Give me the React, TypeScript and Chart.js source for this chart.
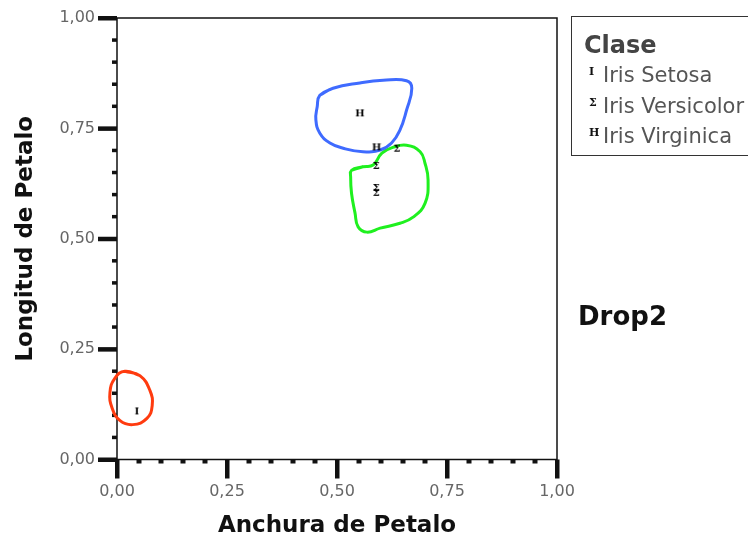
import React, { useEffect, useRef } from "react";
import { Chart, registerables } from "chart.js";

Chart.register(...registerables);

// Category glyph points (Anchura de Petalo, Longitud de Petalo)
const setosaX = [0.045];
const setosaY = [0.109];
const versicolorX = [0.636, 0.589, 0.589, 0.589];
const versicolorY = [0.704, 0.665, 0.615, 0.604];
const virginicaX = [0.552, 0.59];
const virginicaY = [0.784, 0.707];

// Hand-drawn outlines (data coordinates)
const redLoopX = [0.018, 0.052, 0.075, 0.08, 0.068, 0.036, 0.007, -0.011, -0.016, -0.005];
const redLoopY = [0.2, 0.19, 0.156, 0.122, 0.093, 0.079, 0.088, 0.116, 0.152, 0.184];
const blueLoopX = [0.461, 0.491, 0.552, 0.605, 0.658, 0.67, 0.658, 0.643, 0.624, 0.598, 0.559, 0.514, 0.484, 0.461, 0.452, 0.455];
const blueLoopY = [0.825, 0.841, 0.853, 0.859, 0.858, 0.841, 0.791, 0.746, 0.717, 0.701, 0.697, 0.705, 0.717, 0.739, 0.769, 0.799];
const greenLoopX = [0.533, 0.559, 0.582, 0.602, 0.627, 0.658, 0.689, 0.7, 0.707, 0.7, 0.673, 0.643, 0.598, 0.568, 0.548, 0.541, 0.533, 0.531];
const greenLoopY = [0.655, 0.663, 0.667, 0.694, 0.707, 0.712, 0.697, 0.671, 0.633, 0.58, 0.549, 0.535, 0.524, 0.515, 0.527, 0.558, 0.603, 0.64];

const seriesNames = ["Iris Setosa", "Iris Versicolor", "Iris Virginica"];
const seriesGlyphs = ["I", "Σ", "H"];
const majorStep = 0.25;
const minorStep = 0.05;
const axisMin = 0;
const axisMax = 1;

const SANS = '"DejaVu Sans", sans-serif';
const SERIF = '"DejaVu Serif", serif';

const fmt = (v: number) => Number(v).toFixed(2).replace(".", ",");
const pts = (xs: number[], ys: number[]) => xs.map((x, i) => ({ x, y: ys[i] }));
const loop = (xs: number[], ys: number[]) => {
  const p = pts(xs, ys);
  return [...p, p[0], p[1]];
};

function makeGlyph(ch: string): HTMLCanvasElement {
  const c = document.createElement("canvas");
  c.width = 10;
  c.height = 10;
  const g = c.getContext("2d")!;
  g.fillStyle = "#000";
  g.font = `bold 10px ${SERIF}`;
  g.textAlign = "center";
  g.textBaseline = "middle";
  g.fillText(ch, 5, 5.5);
  return c;
}

const axesPlugin = {
  id: "spssAxes",
  beforeDatasetsDraw(chart: any) {
    const { ctx, chartArea: a, scales } = chart;
    const x = scales.x;
    const y = scales.y;
    ctx.save();
    ctx.strokeStyle = "#111";
    ctx.lineWidth = 1.5;
    ctx.strokeRect(a.left, a.top, a.right - a.left, a.bottom - a.top);
    ctx.fillStyle = "#111";
    const n = Math.round((axisMax - axisMin) / minorStep);
    const per = Math.round(majorStep / minorStep);
    for (let i = 0; i <= n; i++) {
      const v = axisMin + i * minorStep;
      const px = x.getPixelForValue(v);
      const py = y.getPixelForValue(v);
      if (i % per === 0) {
        ctx.fillRect(px - 2, a.bottom, 4.5, 19);
        ctx.fillRect(a.left - 19, py - 2, 19, 4.5);
      } else {
        ctx.fillRect(px - 2.5, a.bottom, 5, 4);
        ctx.fillRect(a.left - 5, py - 1.75, 5, 3.5);
      }
    }
    ctx.restore();
  },
};

export default function App() {
  const ref = useRef<HTMLCanvasElement>(null);

  useEffect(() => {
    if (!ref.current) return;
    const glyphs = seriesGlyphs.map(makeGlyph);
    const chart = new Chart(ref.current, {
      type: "scatter",
      data: {
        datasets: [
          { label: seriesNames[0], data: pts(setosaX, setosaY), pointStyle: glyphs[0], pointRadius: 4, showLine: false },
          { label: seriesNames[1], data: pts(versicolorX, versicolorY), pointStyle: glyphs[1], pointRadius: 4, showLine: false },
          { label: seriesNames[2], data: pts(virginicaX, virginicaY), pointStyle: glyphs[2], pointRadius: 4, showLine: false },
          { label: "red", data: loop(redLoopX, redLoopY), showLine: true, pointRadius: 0, borderColor: "#ff3b0f", borderWidth: 3, tension: 0.45, clip: false, fill: false },
          { label: "blue", data: loop(blueLoopX, blueLoopY), showLine: true, pointRadius: 0, borderColor: "#3f6bff", borderWidth: 3, tension: 0.45, clip: false, fill: false },
          { label: "green", data: loop(greenLoopX, greenLoopY), showLine: true, pointRadius: 0, borderColor: "#1ff01f", borderWidth: 3, tension: 0.45, clip: false, fill: false },
        ] as any,
      },
      options: {
        responsive: false,
        animation: false,
        layout: { padding: { left: 0, top: 18, right: 191, bottom: 0 } },
        plugins: { legend: { display: false }, tooltip: { enabled: false } },
        scales: {
          x: {
            type: "linear",
            min: axisMin,
            max: axisMax,
            grid: { display: false, drawTicks: false },
            border: { display: false },
            ticks: {
              stepSize: majorStep,
              autoSkip: false,
              maxRotation: 0,
              padding: 23,
              color: "#666",
              font: { family: SANS, size: 16 },
              callback: (v: any) => fmt(v),
            },
            title: {
              display: true,
              text: "Anchura de Petalo",
              color: "#111",
              font: { family: SANS, size: 23, weight: "bold", lineHeight: 1 },
              padding: { top: 0, bottom: 0 },
            },
            afterFit: (s: any) => {
              s.height = 78.5;
              s.paddingLeft = 0;
              s.paddingRight = 0;
            },
          },
          y: {
            type: "linear",
            min: axisMin,
            max: axisMax,
            grid: { display: false, drawTicks: false },
            border: { display: false },
            ticks: {
              stepSize: majorStep,
              autoSkip: false,
              padding: 22,
              color: "#666",
              font: { family: SANS, size: 16 },
              callback: (v: any) => fmt(v),
            },
            title: {
              display: true,
              text: "Longitud de Petalo",
              color: "#111",
              font: { family: SANS, size: 23, weight: "bold", lineHeight: 1 },
              padding: { top: 15, bottom: 0 },
            },
            afterFit: (s: any) => {
              s.width = 117;
              s.paddingTop = 0;
              s.paddingBottom = 0;
            },
          },
        },
      } as any,
      plugins: [axesPlugin],
    });
    return () => chart.destroy();
  }, []);

  const itemTops = [64.5, 95.5, 125.5];

  return (
    <div style={{ position: "absolute", left: 0, top: 0, width: 748, height: 538, overflow: "hidden", background: "#fff" }}>
      <canvas ref={ref} width={748} height={538} style={{ display: "block" }} />
      <div
        style={{
          position: "absolute",
          left: 571,
          top: 16,
          width: 200,
          height: 140,
          border: "1.5px solid #333",
          boxSizing: "border-box",
        }}
      />
      <div style={{ position: "absolute", left: 584, top: 33, font: `bold 24px/24px ${SANS}`, color: "#444", whiteSpace: "nowrap" }}>
        Clase
      </div>
      {seriesNames.map((name, i) => (
        <React.Fragment key={name}>
          <span
            style={{
              position: "absolute",
              left: 589,
              top: itemTops[i] + 1,
              font: `bold 11px/11px ${SERIF}`,
              color: "#111",
              whiteSpace: "nowrap",
            }}
          >
            {seriesGlyphs[i]}
          </span>
          <span
            style={{
              position: "absolute",
              left: 603,
              top: itemTops[i],
              font: `21px/21px ${SANS}`,
              color: "#555",
              whiteSpace: "nowrap",
            }}
          >
            {name}
          </span>
        </React.Fragment>
      ))}
      <div style={{ position: "absolute", left: 578, top: 303, font: `bold 26px/26px ${SANS}`, color: "#111", whiteSpace: "nowrap" }}>
        Drop2
      </div>
    </div>
  );
}
